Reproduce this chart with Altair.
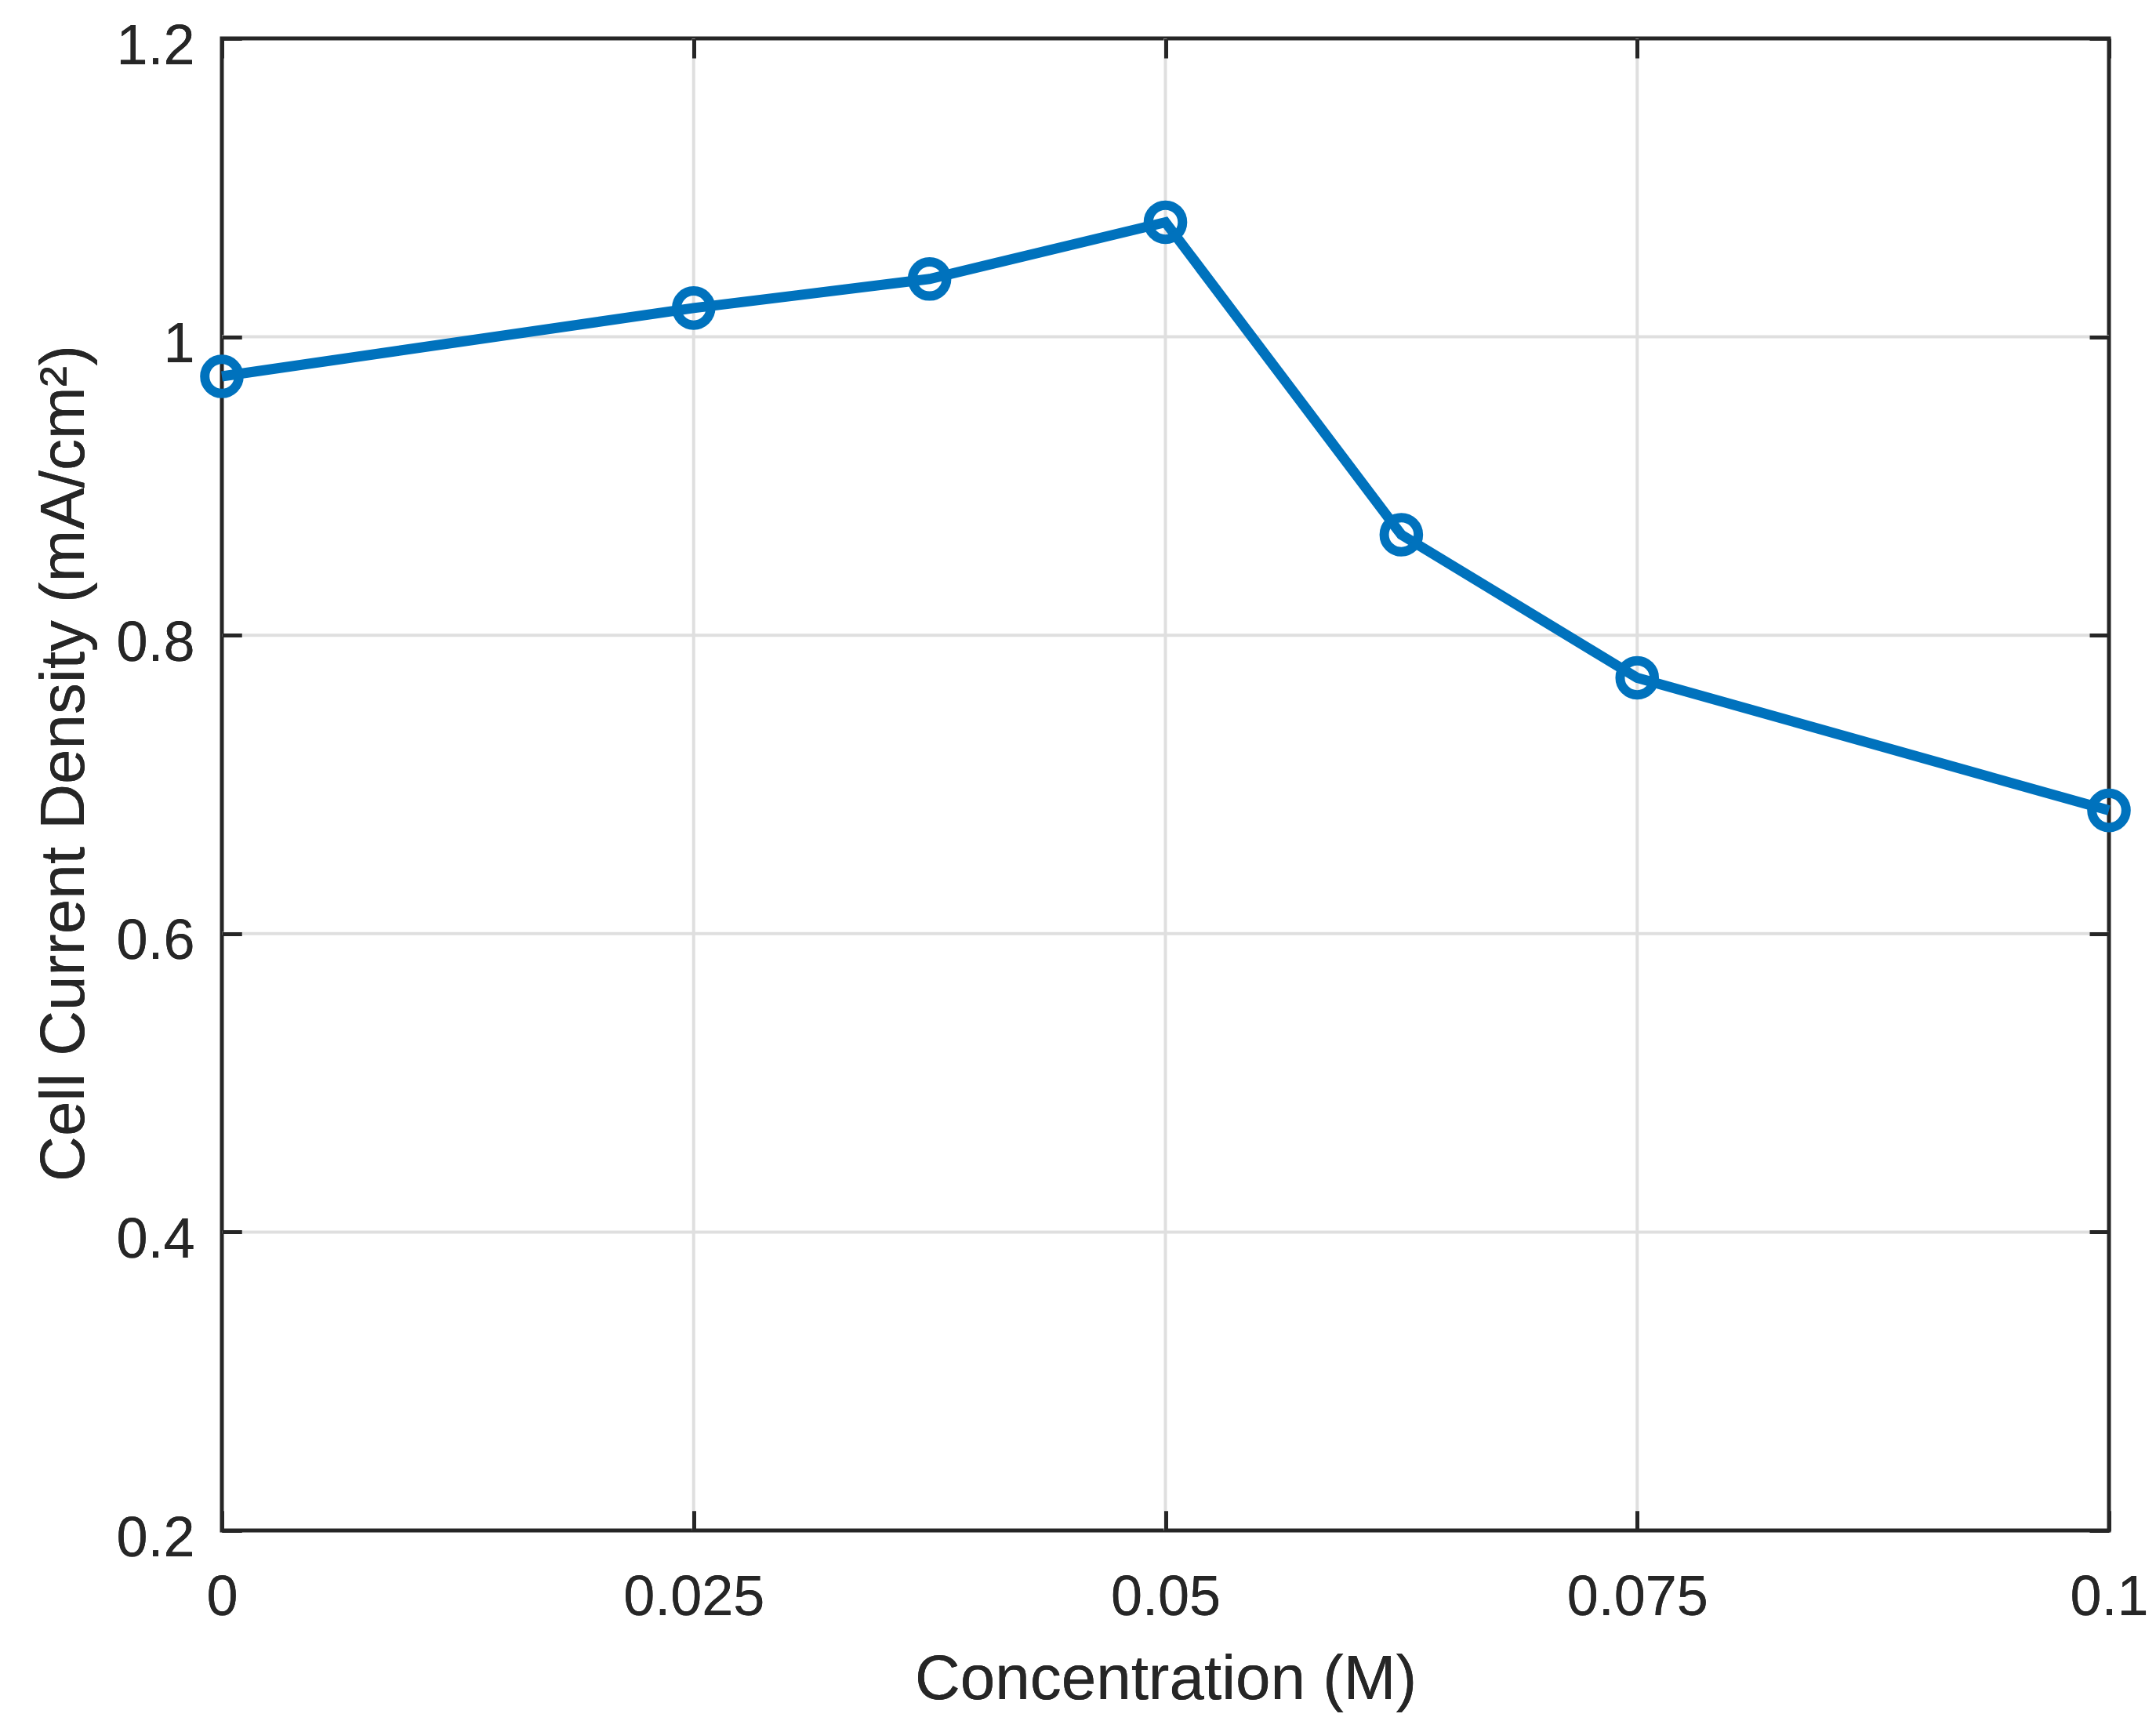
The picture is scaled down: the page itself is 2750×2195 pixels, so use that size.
import altair as alt
import pandas as pd

# Data
conc = [0.0, 0.025, 0.0375, 0.05, 0.0625, 0.075, 0.1]
current = [0.9735, 1.0193, 1.0388, 1.0768, 0.8674, 0.7715, 0.6826]
x_ticks = [0, 0.025, 0.05, 0.075, 0.1]
y_ticks = [0.2, 0.4, 0.6, 0.8, 1.0, 1.2]

df = pd.DataFrame({"conc": conc, "current": current})
gx = pd.DataFrame({"v": x_ticks[1:-1]})
gy = pd.DataFrame({"v": y_ticks[1:-1]})

BLUE = "#0072BD"
INK = "#262626"
GRID = "#DFDFDF"
FONT = "Liberation Sans"
lbl = "format(datum.value, '~g')"

xscale = alt.Scale(domain=[0, 0.1], nice=False, zero=False)
yscale = alt.Scale(domain=[0.2, 1.2], nice=False, zero=False)

grid_x = alt.Chart(gx).mark_rule(color=GRID, strokeWidth=4).encode(
    x=alt.X("v:Q", scale=xscale, axis=None)
)
grid_y = alt.Chart(gy).mark_rule(color=GRID, strokeWidth=4).encode(
    y=alt.Y("v:Q", scale=yscale, axis=None)
)

x_main = alt.X(
    "conc:Q",
    scale=xscale,
    axis=alt.Axis(
        orient="bottom", values=x_ticks, offset=-25, tickSize=25, zindex=1,
        labelPadding=107, labelBaseline="alphabetic", labelExpr=lbl,
        title="Concentration (M)", titleY=239, titleBaseline="alphabetic",
        grid=False,
    ),
)
y_main = alt.Y(
    "current:Q",
    scale=yscale,
    axis=alt.Axis(
        orient="left", values=y_ticks, offset=-25, tickSize=25, zindex=1,
        labelPadding=35, labelBaseline="alphabetic", labelOffset=32, labelExpr=lbl,
        title="Cell Current Density (mA/cm²)", titleAngle=270,
        titleBaseline="alphabetic", titleAlign="center", titleX=-202, titleY=924,
        grid=False,
    ),
)

base = alt.Chart(df).encode(x=x_main, y=y_main)
line = base.mark_line(color=BLUE, strokeWidth=13)
points = base.mark_point(shape="circle", filled=False, color=BLUE, strokeWidth=12, size=1900, opacity=1)

frame_axes = alt.Chart(df).mark_point(opacity=0, size=1).encode(
    x=alt.X("conc:Q", axis=alt.Axis(orient="top", values=x_ticks, offset=-25, tickSize=25, zindex=1,
                                    labels=False, title=None, grid=False)),
    y=alt.Y("current:Q", axis=alt.Axis(orient="right", values=y_ticks, offset=-25, tickSize=25, zindex=1,
                                       labels=False, title=None, grid=False)),
)

chart = (
    alt.layer(grid_x, grid_y, line, points, frame_axes)
    .properties(
        width=2407,
        height=1903,
        autosize=alt.AutoSizeParams(type="none"),
        padding={"left": 275, "top": 41, "right": 52, "bottom": 235},
        background="white",
    )
    .configure_view(stroke=INK, strokeWidth=5)
    .configure_axis(
        domain=False,
        tickColor=INK, tickWidth=5,
        labelColor=INK, labelFont=FONT, labelFontSize=72, labelLimit=0,
        titleColor=INK, titleFont=FONT, titleFontSize=80, titleFontWeight="normal",
        labelFlush=False, labelOverlap=False,
    )
)

chart.save("out.html", embed_options={"renderer": "svg", "actions": False})
